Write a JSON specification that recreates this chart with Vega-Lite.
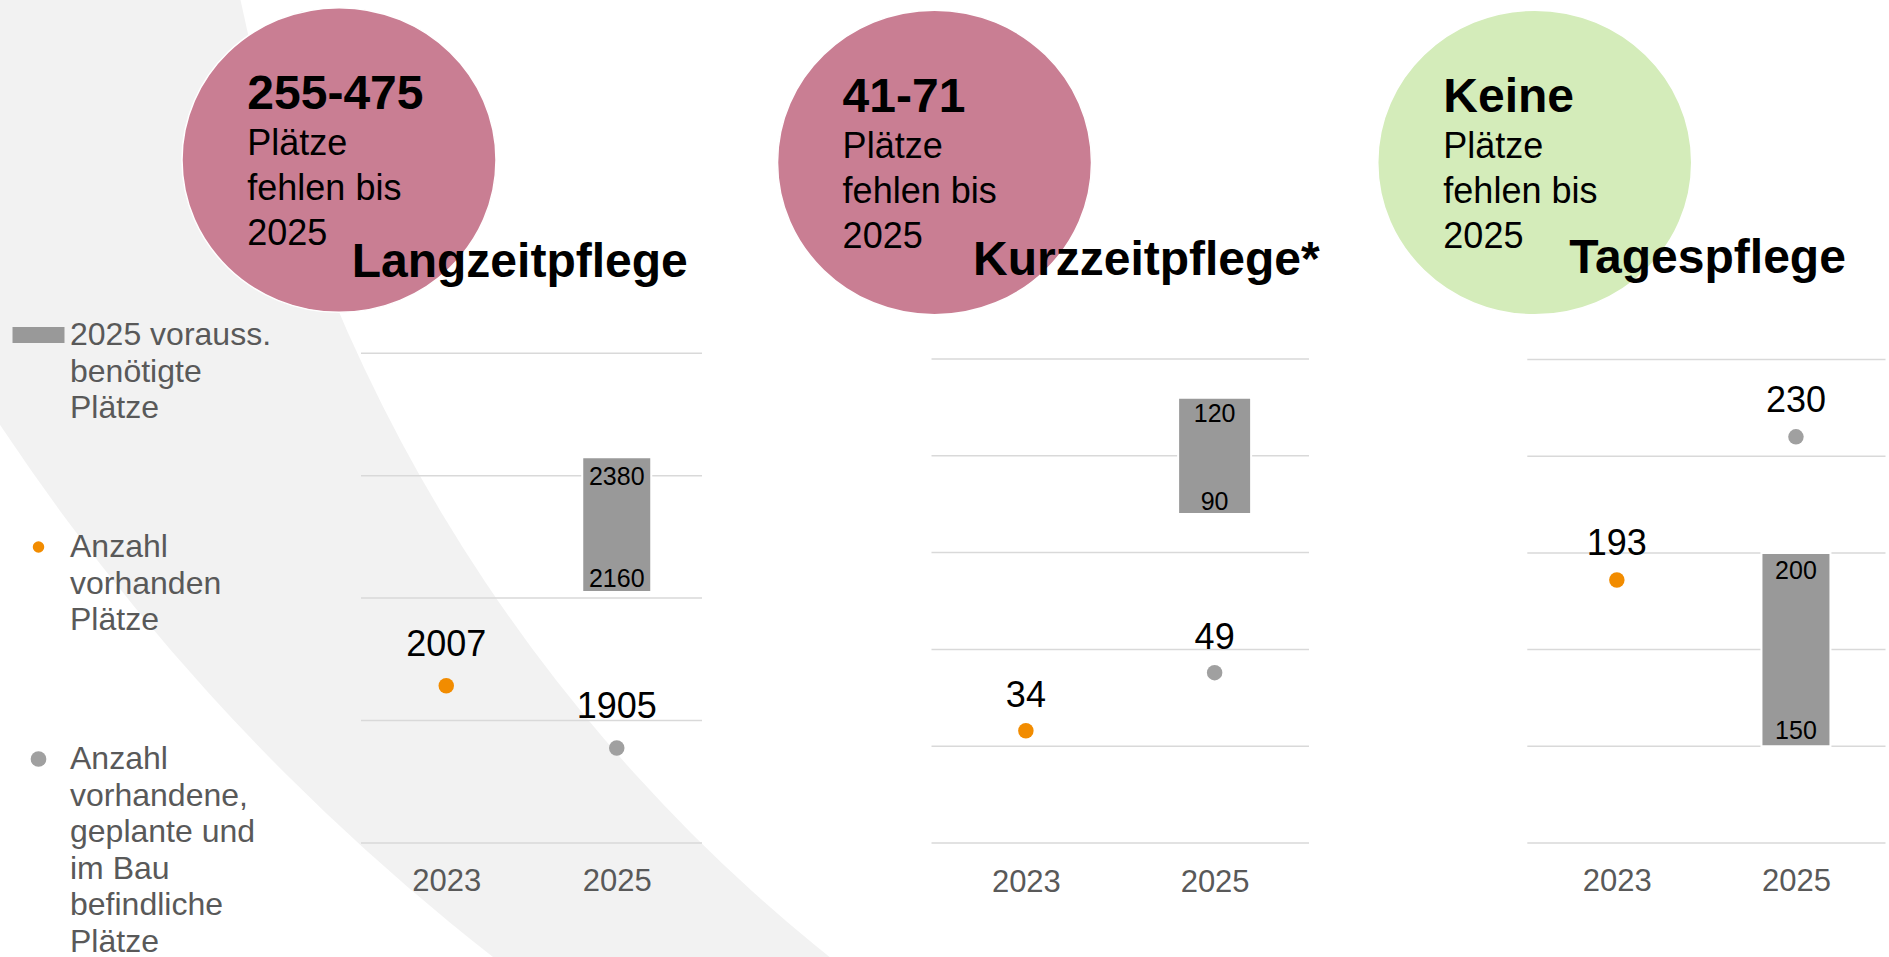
{
  "$schema": "https://vega.github.io/schema/vega-lite/v6.json",
  "width": 1889,
  "height": 957,
  "autosize": "none",
  "padding": 0,
  "background": "#FFFFFF",
  "config": {
    "view": {"stroke": null},
    "font": "Liberation Sans",
    "text": {"font": "Liberation Sans"},
    "axis": {"labelFont": "Liberation Sans"}
  },
  "datasets": {
    "places": [
      {"bereich": "Langzeitpflege", "jahr": 2023, "art": "vorhanden", "plaetze": 2007},
      {"bereich": "Langzeitpflege", "jahr": 2025, "art": "geplant", "plaetze": 1905},
      {"bereich": "Langzeitpflege", "jahr": 2025, "art": "bedarf", "von": 2160, "bis": 2380},
      {"bereich": "Kurzzeitpflege", "jahr": 2023, "art": "vorhanden", "plaetze": 34},
      {"bereich": "Kurzzeitpflege", "jahr": 2025, "art": "geplant", "plaetze": 49},
      {"bereich": "Kurzzeitpflege", "jahr": 2025, "art": "bedarf", "von": 90, "bis": 120},
      {"bereich": "Tagespflege", "jahr": 2023, "art": "vorhanden", "plaetze": 193},
      {"bereich": "Tagespflege", "jahr": 2025, "art": "geplant", "plaetze": 230},
      {"bereich": "Tagespflege", "jahr": 2025, "art": "bedarf", "von": 150, "bis": 200}
    ],
    "notes": [
      {"bereich": "Langzeitpflege", "titel": "Langzeitpflege", "fehlend": "255-475", "hinweis": "Plätze\nfehlen bis\n2025"},
      {"bereich": "Kurzzeitpflege", "titel": "Kurzzeitpflege*", "fehlend": "41-71", "hinweis": "Plätze\nfehlen bis\n2025"},
      {"bereich": "Tagespflege", "titel": "Tagespflege", "fehlend": "Keine", "hinweis": "Plätze\nfehlen bis\n2025"}
    ],
    "raster": [
      {"bereich": "Langzeitpflege", "wert": 1750},
      {"bereich": "Langzeitpflege", "wert": 1950},
      {"bereich": "Langzeitpflege", "wert": 2150},
      {"bereich": "Langzeitpflege", "wert": 2350},
      {"bereich": "Langzeitpflege", "wert": 2550},
      {"bereich": "Kurzzeitpflege", "wert": 5},
      {"bereich": "Kurzzeitpflege", "wert": 30},
      {"bereich": "Kurzzeitpflege", "wert": 55},
      {"bereich": "Kurzzeitpflege", "wert": 80},
      {"bereich": "Kurzzeitpflege", "wert": 105},
      {"bereich": "Kurzzeitpflege", "wert": 130},
      {"bereich": "Tagespflege", "wert": 125},
      {"bereich": "Tagespflege", "wert": 150},
      {"bereich": "Tagespflege", "wert": 175},
      {"bereich": "Tagespflege", "wert": 200},
      {"bereich": "Tagespflege", "wert": 225},
      {"bereich": "Tagespflege", "wert": 250}
    ],
    "legende": [
      {"eintrag": "bedarf", "beschriftung": "2025 vorauss.\nbenötigte\nPlätze"},
      {"eintrag": "vorhanden", "beschriftung": "Anzahl\nvorhanden\nPlätze"},
      {"eintrag": "geplant", "beschriftung": "Anzahl\nvorhandene,\ngeplante und\nim Bau\nbefindliche\nPlätze"}
    ]
  },
  "layer": [
    {
      "data": {"name": "notes"},
      "transform": [{"filter": "datum.bereich === 'Langzeitpflege'"}],
      "mark": {"type": "point", "shape": "circle", "filled": true, "opacity": 1, "size": 20430400, "color": "#F2F2F2", "strokeWidth": 0},
      "encoding": {
        "x": {"datum": 2039.853, "type": "quantitative", "scale": {"domain": [2022, 2026], "range": [361, 702], "nice": false, "zero": false, "padding": 0}, "axis": null},
        "y": {"datum": 4474.4, "type": "quantitative", "scale": {"domain": [1750, 2550], "range": [843, 353.2], "nice": false, "zero": false}, "axis": null}
      }
    },
    {
      "data": {"name": "notes"},
      "transform": [{"filter": "datum.bereich === 'Langzeitpflege'"}],
      "mark": {"type": "point", "shape": "circle", "filled": true, "opacity": 1, "size": 11062276, "color": "#FFFFFF", "strokeWidth": 0},
      "encoding": {
        "x": {"datum": 2039.677, "type": "quantitative", "scale": {"domain": [2022, 2026], "range": [361, 702], "nice": false, "zero": false, "padding": 0}, "axis": null},
        "y": {"datum": 3685.5, "type": "quantitative", "scale": {"domain": [1750, 2550], "range": [843, 353.2], "nice": false, "zero": false}, "axis": null}
      }
    },
    {
      "data": {"name": "notes"},
      "transform": [{"filter": "datum.bereich === 'Langzeitpflege'"}],
      "mark": {"type": "point", "shape": "M-1,0A1,0.97,0,1,1,1,0A1,0.97,0,1,1,-1,0Z", "filled": true, "opacity": 1, "size": 98596, "color": "#C97E93", "stroke": "#FFFFFF", "strokeWidth": 1.5},
      "encoding": {
        "x": {"datum": 2021.742, "type": "quantitative", "scale": {"domain": [2022, 2026], "range": [361, 702], "nice": false, "zero": false, "padding": 0}, "axis": null},
        "y": {"datum": 2865.56, "type": "quantitative", "scale": {"domain": [1750, 2550], "range": [843, 353.2], "nice": false, "zero": false}, "axis": null}
      }
    },
    {
      "data": {"name": "notes"},
      "transform": [{"filter": "datum.bereich === 'Langzeitpflege'"}],
      "mark": {"type": "text", "align": "left", "baseline": "alphabetic", "dx": -91.7, "dy": -50.7, "fontSize": 48, "fontWeight": "bold", "color": "#000000"},
      "encoding": {
        "x": {"datum": 2021.742, "type": "quantitative", "scale": {"domain": [2022, 2026], "range": [361, 702], "nice": false, "zero": false, "padding": 0}, "axis": null},
        "y": {"datum": 2865.56, "type": "quantitative", "scale": {"domain": [1750, 2550], "range": [843, 353.2], "nice": false, "zero": false}, "axis": null},
        "text": {"field": "fehlend", "type": "nominal"}
      }
    },
    {
      "data": {"name": "notes"},
      "transform": [{"filter": "datum.bereich === 'Langzeitpflege'"}],
      "mark": {"type": "text", "align": "left", "baseline": "alphabetic", "dx": -91.7, "dy": -5, "fontSize": 36, "lineHeight": 45, "lineBreak": "\n", "color": "#000000"},
      "encoding": {
        "x": {"datum": 2021.742, "type": "quantitative", "scale": {"domain": [2022, 2026], "range": [361, 702], "nice": false, "zero": false, "padding": 0}, "axis": null},
        "y": {"datum": 2865.56, "type": "quantitative", "scale": {"domain": [1750, 2550], "range": [843, 353.2], "nice": false, "zero": false}, "axis": null},
        "text": {"field": "hinweis", "type": "nominal"}
      }
    },
    {
      "data": {"name": "notes"},
      "transform": [{"filter": "datum.bereich === 'Langzeitpflege'"}],
      "mark": {"type": "text", "align": "left", "baseline": "alphabetic", "dx": 12.7, "dy": 116.7, "fontSize": 48, "fontWeight": "bold", "color": "#000000"},
      "encoding": {
        "x": {"datum": 2021.742, "type": "quantitative", "scale": {"domain": [2022, 2026], "range": [361, 702], "nice": false, "zero": false, "padding": 0}, "axis": null},
        "y": {"datum": 2865.56, "type": "quantitative", "scale": {"domain": [1750, 2550], "range": [843, 353.2], "nice": false, "zero": false}, "axis": null},
        "text": {"field": "titel", "type": "nominal"}
      }
    },
    {
      "data": {"name": "raster"},
      "transform": [{"filter": "datum.bereich === 'Langzeitpflege'"}],
      "mark": {"type": "rule", "color": "#D9D9D9", "strokeWidth": 1.5},
      "encoding": {
        "x": {"datum": 2022, "type": "quantitative", "scale": {"domain": [2022, 2026], "range": [361, 702], "nice": false, "zero": false, "padding": 0}, "axis": null},
        "x2": {"datum": 2026},
        "y": {"field": "wert", "type": "quantitative", "scale": {"domain": [1750, 2550], "range": [843, 353.2], "nice": false, "zero": false}, "axis": null}
      }
    },
    {
      "data": {"name": "places"},
      "transform": [{"filter": "datum.bereich === 'Langzeitpflege' && datum.art === 'bedarf'"}],
      "mark": {"type": "bar", "width": 69, "color": "#999999", "stroke": "#FFFFFF", "strokeWidth": 2},
      "encoding": {
        "x": {"field": "jahr", "type": "quantitative", "scale": {"domain": [2022, 2026], "range": [361, 702], "nice": false, "zero": false, "padding": 0},
          "axis": {"orient": "bottom", "values": [2023, 2025], "format": "d", "title": null, "grid": false, "ticks": false, "domain": false, "offset": -114, "labelFontSize": 31, "labelColor": "#595959", "labelBaseline": "alphabetic", "labelPadding": 47.5, "labelFlush": false, "labelOverlap": false, "zindex": 1}},
        "y": {"field": "von", "type": "quantitative", "scale": {"domain": [1750, 2550], "range": [843, 353.2], "nice": false, "zero": false}, "axis": null},
        "y2": {"field": "bis"}
      }
    },
    {
      "data": {"name": "places"},
      "transform": [{"filter": "datum.bereich === 'Langzeitpflege' && datum.art === 'bedarf'"}],
      "mark": {"type": "text", "baseline": "alphabetic", "dy": 28, "fontSize": 25, "color": "#000000"},
      "encoding": {
        "x": {"field": "jahr", "type": "quantitative", "scale": {"domain": [2022, 2026], "range": [361, 702], "nice": false, "zero": false, "padding": 0}, "axis": null},
        "y": {"field": "bis", "type": "quantitative", "scale": {"domain": [1750, 2550], "range": [843, 353.2], "nice": false, "zero": false}, "axis": null},
        "text": {"field": "bis", "type": "quantitative", "format": "d"}
      }
    },
    {
      "data": {"name": "places"},
      "transform": [{"filter": "datum.bereich === 'Langzeitpflege' && datum.art === 'bedarf'"}],
      "mark": {"type": "text", "baseline": "alphabetic", "dy": -5, "fontSize": 25, "color": "#000000"},
      "encoding": {
        "x": {"field": "jahr", "type": "quantitative", "scale": {"domain": [2022, 2026], "range": [361, 702], "nice": false, "zero": false, "padding": 0}, "axis": null},
        "y": {"field": "von", "type": "quantitative", "scale": {"domain": [1750, 2550], "range": [843, 353.2], "nice": false, "zero": false}, "axis": null},
        "text": {"field": "von", "type": "quantitative", "format": "d"}
      }
    },
    {
      "data": {"name": "places"},
      "transform": [{"filter": "datum.bereich === 'Langzeitpflege' && datum.art !== 'bedarf'"}],
      "mark": {"type": "point", "shape": "circle", "filled": true, "opacity": 1, "size": 240, "strokeWidth": 0},
      "encoding": {
        "x": {"field": "jahr", "type": "quantitative", "scale": {"domain": [2022, 2026], "range": [361, 702], "nice": false, "zero": false, "padding": 0}, "axis": null},
        "y": {"field": "plaetze", "type": "quantitative", "scale": {"domain": [1750, 2550], "range": [843, 353.2], "nice": false, "zero": false}, "axis": null},
        "color": {"field": "art", "type": "nominal", "scale": {"domain": ["vorhanden", "geplant"], "range": ["#F28C00", "#A0A0A0"]}, "legend": null}
      }
    },
    {
      "data": {"name": "places"},
      "transform": [{"filter": "datum.bereich === 'Langzeitpflege' && datum.art !== 'bedarf'"}],
      "mark": {"type": "text", "baseline": "alphabetic", "dy": -30, "fontSize": 36, "color": "#000000"},
      "encoding": {
        "x": {"field": "jahr", "type": "quantitative", "scale": {"domain": [2022, 2026], "range": [361, 702], "nice": false, "zero": false, "padding": 0}, "axis": null},
        "y": {"field": "plaetze", "type": "quantitative", "scale": {"domain": [1750, 2550], "range": [843, 353.2], "nice": false, "zero": false}, "axis": null},
        "text": {"field": "plaetze", "type": "quantitative", "format": "d"}
      }
    },
    {
      "data": {"name": "notes"},
      "transform": [{"filter": "datum.bereich === 'Kurzzeitpflege'"}],
      "mark": {"type": "point", "shape": "M-1,0A1,0.97,0,1,1,1,0A1,0.97,0,1,1,-1,0Z", "filled": true, "opacity": 1, "size": 98596, "color": "#C97E93", "stroke": "#FFFFFF", "strokeWidth": 1.5},
      "encoding": {
        "x": {"datum": 2022.032, "type": "quantitative", "scale": {"domain": [2022, 2026], "range": [931.5, 1309], "nice": false, "zero": false, "padding": 0}, "axis": null},
        "y": {"datum": 180.75, "type": "quantitative", "scale": {"domain": [5, 130], "range": [843, 359], "nice": false, "zero": false}, "axis": null}
      }
    },
    {
      "data": {"name": "notes"},
      "transform": [{"filter": "datum.bereich === 'Kurzzeitpflege'"}],
      "mark": {"type": "text", "align": "left", "baseline": "alphabetic", "dx": -91.9, "dy": -50.8, "fontSize": 48, "fontWeight": "bold", "color": "#000000"},
      "encoding": {
        "x": {"datum": 2022.032, "type": "quantitative", "scale": {"domain": [2022, 2026], "range": [931.5, 1309], "nice": false, "zero": false, "padding": 0}, "axis": null},
        "y": {"datum": 180.75, "type": "quantitative", "scale": {"domain": [5, 130], "range": [843, 359], "nice": false, "zero": false}, "axis": null},
        "text": {"field": "fehlend", "type": "nominal"}
      }
    },
    {
      "data": {"name": "notes"},
      "transform": [{"filter": "datum.bereich === 'Kurzzeitpflege'"}],
      "mark": {"type": "text", "align": "left", "baseline": "alphabetic", "dx": -91.9, "dy": -4.2, "fontSize": 36, "lineHeight": 45, "lineBreak": "\n", "color": "#000000"},
      "encoding": {
        "x": {"datum": 2022.032, "type": "quantitative", "scale": {"domain": [2022, 2026], "range": [931.5, 1309], "nice": false, "zero": false, "padding": 0}, "axis": null},
        "y": {"datum": 180.75, "type": "quantitative", "scale": {"domain": [5, 130], "range": [843, 359], "nice": false, "zero": false}, "axis": null},
        "text": {"field": "hinweis", "type": "nominal"}
      }
    },
    {
      "data": {"name": "notes"},
      "transform": [{"filter": "datum.bereich === 'Kurzzeitpflege'"}],
      "mark": {"type": "text", "align": "left", "baseline": "alphabetic", "dx": 38.5, "dy": 112.5, "fontSize": 48, "fontWeight": "bold", "color": "#000000"},
      "encoding": {
        "x": {"datum": 2022.032, "type": "quantitative", "scale": {"domain": [2022, 2026], "range": [931.5, 1309], "nice": false, "zero": false, "padding": 0}, "axis": null},
        "y": {"datum": 180.75, "type": "quantitative", "scale": {"domain": [5, 130], "range": [843, 359], "nice": false, "zero": false}, "axis": null},
        "text": {"field": "titel", "type": "nominal"}
      }
    },
    {
      "data": {"name": "raster"},
      "transform": [{"filter": "datum.bereich === 'Kurzzeitpflege'"}],
      "mark": {"type": "rule", "color": "#D9D9D9", "strokeWidth": 1.5},
      "encoding": {
        "x": {"datum": 2022, "type": "quantitative", "scale": {"domain": [2022, 2026], "range": [931.5, 1309], "nice": false, "zero": false, "padding": 0}, "axis": null},
        "x2": {"datum": 2026},
        "y": {"field": "wert", "type": "quantitative", "scale": {"domain": [5, 130], "range": [843, 359], "nice": false, "zero": false}, "axis": null}
      }
    },
    {
      "data": {"name": "places"},
      "transform": [{"filter": "datum.bereich === 'Kurzzeitpflege' && datum.art === 'bedarf'"}],
      "mark": {"type": "bar", "width": 73, "color": "#999999", "stroke": "#FFFFFF", "strokeWidth": 2},
      "encoding": {
        "x": {"field": "jahr", "type": "quantitative", "scale": {"domain": [2022, 2026], "range": [931.5, 1309], "nice": false, "zero": false, "padding": 0},
          "axis": {"orient": "bottom", "values": [2023, 2025], "format": "d", "title": null, "grid": false, "ticks": false, "domain": false, "offset": -114, "labelFontSize": 31, "labelColor": "#595959", "labelBaseline": "alphabetic", "labelPadding": 48.5, "labelFlush": false, "labelOverlap": false, "zindex": 1}},
        "y": {"field": "von", "type": "quantitative", "scale": {"domain": [5, 130], "range": [843, 359], "nice": false, "zero": false}, "axis": null},
        "y2": {"field": "bis"}
      }
    },
    {
      "data": {"name": "places"},
      "transform": [{"filter": "datum.bereich === 'Kurzzeitpflege' && datum.art === 'bedarf'"}],
      "mark": {"type": "text", "baseline": "alphabetic", "dy": 24, "fontSize": 25, "color": "#000000"},
      "encoding": {
        "x": {"field": "jahr", "type": "quantitative", "scale": {"domain": [2022, 2026], "range": [931.5, 1309], "nice": false, "zero": false, "padding": 0}, "axis": null},
        "y": {"field": "bis", "type": "quantitative", "scale": {"domain": [5, 130], "range": [843, 359], "nice": false, "zero": false}, "axis": null},
        "text": {"field": "bis", "type": "quantitative", "format": "d"}
      }
    },
    {
      "data": {"name": "places"},
      "transform": [{"filter": "datum.bereich === 'Kurzzeitpflege' && datum.art === 'bedarf'"}],
      "mark": {"type": "text", "baseline": "alphabetic", "dy": -4, "fontSize": 25, "color": "#000000"},
      "encoding": {
        "x": {"field": "jahr", "type": "quantitative", "scale": {"domain": [2022, 2026], "range": [931.5, 1309], "nice": false, "zero": false, "padding": 0}, "axis": null},
        "y": {"field": "von", "type": "quantitative", "scale": {"domain": [5, 130], "range": [843, 359], "nice": false, "zero": false}, "axis": null},
        "text": {"field": "von", "type": "quantitative", "format": "d"}
      }
    },
    {
      "data": {"name": "places"},
      "transform": [{"filter": "datum.bereich === 'Kurzzeitpflege' && datum.art !== 'bedarf'"}],
      "mark": {"type": "point", "shape": "circle", "filled": true, "opacity": 1, "size": 240, "strokeWidth": 0},
      "encoding": {
        "x": {"field": "jahr", "type": "quantitative", "scale": {"domain": [2022, 2026], "range": [931.5, 1309], "nice": false, "zero": false, "padding": 0}, "axis": null},
        "y": {"field": "plaetze", "type": "quantitative", "scale": {"domain": [5, 130], "range": [843, 359], "nice": false, "zero": false}, "axis": null},
        "color": {"field": "art", "type": "nominal", "scale": {"domain": ["vorhanden", "geplant"], "range": ["#F28C00", "#A0A0A0"]}, "legend": null}
      }
    },
    {
      "data": {"name": "places"},
      "transform": [{"filter": "datum.bereich === 'Kurzzeitpflege' && datum.art !== 'bedarf'"}],
      "mark": {"type": "text", "baseline": "alphabetic", "dy": -24, "fontSize": 36, "color": "#000000"},
      "encoding": {
        "x": {"field": "jahr", "type": "quantitative", "scale": {"domain": [2022, 2026], "range": [931.5, 1309], "nice": false, "zero": false, "padding": 0}, "axis": null},
        "y": {"field": "plaetze", "type": "quantitative", "scale": {"domain": [5, 130], "range": [843, 359], "nice": false, "zero": false}, "axis": null},
        "text": {"field": "plaetze", "type": "quantitative", "format": "d"}
      }
    },
    {
      "data": {"name": "notes"},
      "transform": [{"filter": "datum.bereich === 'Tagespflege'"}],
      "mark": {"type": "point", "shape": "M-1,0A1,0.97,0,1,1,1,0A1,0.97,0,1,1,-1,0Z", "filled": true, "opacity": 1, "size": 98596, "color": "#D4ECBA", "stroke": "#FFFFFF", "strokeWidth": 1.5},
      "encoding": {
        "x": {"datum": 2022.083, "type": "quantitative", "scale": {"domain": [2022, 2026], "range": [1527.3, 1885.5], "nice": false, "zero": false, "padding": 0}, "axis": null},
        "y": {"datum": 300.93, "type": "quantitative", "scale": {"domain": [125, 250], "range": [843, 359.5], "nice": false, "zero": false}, "axis": null}
      }
    },
    {
      "data": {"name": "notes"},
      "transform": [{"filter": "datum.bereich === 'Tagespflege'"}],
      "mark": {"type": "text", "align": "left", "baseline": "alphabetic", "dx": -91.4, "dy": -50.8, "fontSize": 48, "fontWeight": "bold", "color": "#000000"},
      "encoding": {
        "x": {"datum": 2022.083, "type": "quantitative", "scale": {"domain": [2022, 2026], "range": [1527.3, 1885.5], "nice": false, "zero": false, "padding": 0}, "axis": null},
        "y": {"datum": 300.93, "type": "quantitative", "scale": {"domain": [125, 250], "range": [843, 359.5], "nice": false, "zero": false}, "axis": null},
        "text": {"field": "fehlend", "type": "nominal"}
      }
    },
    {
      "data": {"name": "notes"},
      "transform": [{"filter": "datum.bereich === 'Tagespflege'"}],
      "mark": {"type": "text", "align": "left", "baseline": "alphabetic", "dx": -91.4, "dy": -4.2, "fontSize": 36, "lineHeight": 45, "lineBreak": "\n", "color": "#000000"},
      "encoding": {
        "x": {"datum": 2022.083, "type": "quantitative", "scale": {"domain": [2022, 2026], "range": [1527.3, 1885.5], "nice": false, "zero": false, "padding": 0}, "axis": null},
        "y": {"datum": 300.93, "type": "quantitative", "scale": {"domain": [125, 250], "range": [843, 359.5], "nice": false, "zero": false}, "axis": null},
        "text": {"field": "hinweis", "type": "nominal"}
      }
    },
    {
      "data": {"name": "notes"},
      "transform": [{"filter": "datum.bereich === 'Tagespflege'"}],
      "mark": {"type": "text", "align": "left", "baseline": "alphabetic", "dx": 34.6, "dy": 110.8, "fontSize": 48, "fontWeight": "bold", "color": "#000000"},
      "encoding": {
        "x": {"datum": 2022.083, "type": "quantitative", "scale": {"domain": [2022, 2026], "range": [1527.3, 1885.5], "nice": false, "zero": false, "padding": 0}, "axis": null},
        "y": {"datum": 300.93, "type": "quantitative", "scale": {"domain": [125, 250], "range": [843, 359.5], "nice": false, "zero": false}, "axis": null},
        "text": {"field": "titel", "type": "nominal"}
      }
    },
    {
      "data": {"name": "raster"},
      "transform": [{"filter": "datum.bereich === 'Tagespflege'"}],
      "mark": {"type": "rule", "color": "#D9D9D9", "strokeWidth": 1.5},
      "encoding": {
        "x": {"datum": 2022, "type": "quantitative", "scale": {"domain": [2022, 2026], "range": [1527.3, 1885.5], "nice": false, "zero": false, "padding": 0}, "axis": null},
        "x2": {"datum": 2026},
        "y": {"field": "wert", "type": "quantitative", "scale": {"domain": [125, 250], "range": [843, 359.5], "nice": false, "zero": false}, "axis": null}
      }
    },
    {
      "data": {"name": "places"},
      "transform": [{"filter": "datum.bereich === 'Tagespflege' && datum.art === 'bedarf'"}],
      "mark": {"type": "bar", "width": 69, "color": "#999999", "stroke": "#FFFFFF", "strokeWidth": 2},
      "encoding": {
        "x": {"field": "jahr", "type": "quantitative", "scale": {"domain": [2022, 2026], "range": [1527.3, 1885.5], "nice": false, "zero": false, "padding": 0},
          "axis": {"orient": "bottom", "values": [2023, 2025], "format": "d", "title": null, "grid": false, "ticks": false, "domain": false, "offset": -114, "labelFontSize": 31, "labelColor": "#595959", "labelBaseline": "alphabetic", "labelPadding": 47.7, "labelFlush": false, "labelOverlap": false, "zindex": 1}},
        "y": {"field": "von", "type": "quantitative", "scale": {"domain": [125, 250], "range": [843, 359.5], "nice": false, "zero": false}, "axis": null},
        "y2": {"field": "bis"}
      }
    },
    {
      "data": {"name": "places"},
      "transform": [{"filter": "datum.bereich === 'Tagespflege' && datum.art === 'bedarf'"}],
      "mark": {"type": "text", "baseline": "alphabetic", "dy": 26, "fontSize": 25, "color": "#000000"},
      "encoding": {
        "x": {"field": "jahr", "type": "quantitative", "scale": {"domain": [2022, 2026], "range": [1527.3, 1885.5], "nice": false, "zero": false, "padding": 0}, "axis": null},
        "y": {"field": "bis", "type": "quantitative", "scale": {"domain": [125, 250], "range": [843, 359.5], "nice": false, "zero": false}, "axis": null},
        "text": {"field": "bis", "type": "quantitative", "format": "d"}
      }
    },
    {
      "data": {"name": "places"},
      "transform": [{"filter": "datum.bereich === 'Tagespflege' && datum.art === 'bedarf'"}],
      "mark": {"type": "text", "baseline": "alphabetic", "dy": -7, "fontSize": 25, "color": "#000000"},
      "encoding": {
        "x": {"field": "jahr", "type": "quantitative", "scale": {"domain": [2022, 2026], "range": [1527.3, 1885.5], "nice": false, "zero": false, "padding": 0}, "axis": null},
        "y": {"field": "von", "type": "quantitative", "scale": {"domain": [125, 250], "range": [843, 359.5], "nice": false, "zero": false}, "axis": null},
        "text": {"field": "von", "type": "quantitative", "format": "d"}
      }
    },
    {
      "data": {"name": "places"},
      "transform": [{"filter": "datum.bereich === 'Tagespflege' && datum.art !== 'bedarf'"}],
      "mark": {"type": "point", "shape": "circle", "filled": true, "opacity": 1, "size": 240, "strokeWidth": 0},
      "encoding": {
        "x": {"field": "jahr", "type": "quantitative", "scale": {"domain": [2022, 2026], "range": [1527.3, 1885.5], "nice": false, "zero": false, "padding": 0}, "axis": null},
        "y": {"field": "plaetze", "type": "quantitative", "scale": {"domain": [125, 250], "range": [843, 359.5], "nice": false, "zero": false}, "axis": null},
        "color": {"field": "art", "type": "nominal", "scale": {"domain": ["vorhanden", "geplant"], "range": ["#F28C00", "#A0A0A0"]}, "legend": null}
      }
    },
    {
      "data": {"name": "places"},
      "transform": [{"filter": "datum.bereich === 'Tagespflege' && datum.art !== 'bedarf'"}],
      "mark": {"type": "text", "baseline": "alphabetic", "dy": -24.5, "fontSize": 36, "color": "#000000"},
      "encoding": {
        "x": {"field": "jahr", "type": "quantitative", "scale": {"domain": [2022, 2026], "range": [1527.3, 1885.5], "nice": false, "zero": false, "padding": 0}, "axis": null},
        "y": {"field": "plaetze", "type": "quantitative", "scale": {"domain": [125, 250], "range": [843, 359.5], "nice": false, "zero": false}, "axis": null},
        "text": {"field": "plaetze", "type": "quantitative", "format": "d"}
      }
    },
    {
      "data": {"name": "legende"},
      "transform": [{"filter": "datum.eintrag === 'bedarf'"}],
      "mark": {"type": "point", "shape": "M-1,-0.31H1V0.31H-1Z", "filled": true, "opacity": 1, "size": 2704, "color": "#999999", "strokeWidth": 0},
      "encoding": {
        "x": {"datum": "Symbol", "type": "nominal", "scale": {"type": "point", "domain": ["Symbol", "Text"], "range": [38.5, 70], "padding": 0}, "axis": null},
        "y": {"field": "eintrag", "type": "nominal", "scale": {"type": "point", "domain": ["bedarf", "vorhanden", "geplant"], "range": [335, 759], "padding": 0}, "axis": null}
      }
    },
    {
      "data": {"name": "legende"},
      "transform": [{"filter": "datum.eintrag === 'vorhanden'"}],
      "mark": {"type": "point", "shape": "circle", "filled": true, "opacity": 1, "size": 132, "color": "#F28C00", "strokeWidth": 0},
      "encoding": {
        "x": {"datum": "Symbol", "type": "nominal", "scale": {"type": "point", "domain": ["Symbol", "Text"], "range": [38.5, 70], "padding": 0}, "axis": null},
        "y": {"field": "eintrag", "type": "nominal", "scale": {"type": "point", "domain": ["bedarf", "vorhanden", "geplant"], "range": [335, 759], "padding": 0}, "axis": null}
      }
    },
    {
      "data": {"name": "legende"},
      "transform": [{"filter": "datum.eintrag === 'geplant'"}],
      "mark": {"type": "point", "shape": "circle", "filled": true, "opacity": 1, "size": 246, "color": "#A0A0A0", "strokeWidth": 0},
      "encoding": {
        "x": {"datum": "Symbol", "type": "nominal", "scale": {"type": "point", "domain": ["Symbol", "Text"], "range": [38.5, 70], "padding": 0}, "axis": null},
        "y": {"field": "eintrag", "type": "nominal", "scale": {"type": "point", "domain": ["bedarf", "vorhanden", "geplant"], "range": [335, 759], "padding": 0}, "axis": null}
      }
    },
    {
      "data": {"name": "legende"},
      "mark": {"type": "text", "align": "left", "baseline": "alphabetic", "dy": 10, "fontSize": 32, "lineHeight": 36.6, "lineBreak": "\n", "color": "#595959"},
      "encoding": {
        "x": {"datum": "Text", "type": "nominal", "scale": {"type": "point", "domain": ["Symbol", "Text"], "range": [38.5, 70], "padding": 0}, "axis": null},
        "y": {"field": "eintrag", "type": "nominal", "scale": {"type": "point", "domain": ["bedarf", "vorhanden", "geplant"], "range": [335, 759], "padding": 0}, "axis": null},
        "text": {"field": "beschriftung", "type": "nominal"}
      }
    }
  ],
  "resolve": {
    "scale": {"x": "independent", "y": "independent", "color": "independent"},
    "axis": {"x": "independent", "y": "independent"}
  }
}
